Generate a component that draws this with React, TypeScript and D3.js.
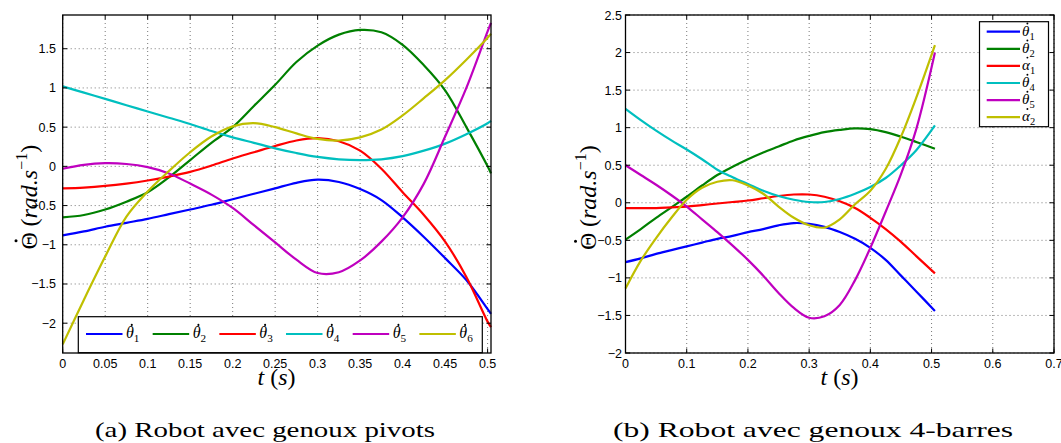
import React from "react";
import * as d3 from "d3";

// ---------- data: panel (a) Robot avec genoux pivots ----------
const tA = [0, 0.025, 0.05, 0.075, 0.1, 0.125, 0.15, 0.175, 0.2, 0.225, 0.25, 0.275, 0.3, 0.325, 0.35, 0.375, 0.4, 0.425, 0.45, 0.475, 0.5, 0.504];
const a_theta1 = [-0.88, -0.83, -0.77, -0.72, -0.67, -0.61, -0.55, -0.49, -0.42, -0.35, -0.28, -0.21, -0.17, -0.2, -0.29, -0.43, -0.65, -0.9, -1.17, -1.45, -1.82, -1.88];
const a_theta2 = [-0.65, -0.62, -0.55, -0.45, -0.33, -0.14, 0.08, 0.3, 0.5, 0.77, 1.04, 1.33, 1.54, 1.68, 1.74, 1.71, 1.55, 1.29, 0.97, 0.5, 0.0, -0.09];
const a_theta3 = [-0.28, -0.27, -0.25, -0.22, -0.18, -0.13, -0.07, 0.01, 0.1, 0.18, 0.26, 0.33, 0.36, 0.32, 0.2, -0.03, -0.33, -0.62, -0.96, -1.41, -1.98, -2.05];
const a_theta4 = [1.02, 0.94, 0.86, 0.78, 0.7, 0.62, 0.54, 0.45, 0.37, 0.3, 0.23, 0.17, 0.12, 0.09, 0.08, 0.09, 0.13, 0.2, 0.29, 0.41, 0.55, 0.58];
const a_theta5 = [-0.03, 0.02, 0.04, 0.03, -0.01, -0.09, -0.22, -0.36, -0.53, -0.75, -0.97, -1.19, -1.36, -1.35, -1.2, -0.96, -0.65, -0.22, 0.38, 1.0, 1.72, 1.83];
const a_theta6 = [-2.27, -1.7, -1.15, -0.64, -0.32, -0.06, 0.18, 0.38, 0.51, 0.55, 0.5, 0.42, 0.35, 0.33, 0.37, 0.47, 0.65, 0.87, 1.1, 1.36, 1.64, 1.69];
const a_names = ["θ|1", "θ|2", "θ|3", "θ|4", "θ|5", "θ|6"];
const a_xticks = [0, 0.05, 0.1, 0.15, 0.2, 0.25, 0.3, 0.35, 0.4, 0.45, 0.5];
const a_yticks = [-2, -1.5, -1, -0.5, 0, 0.5, 1, 1.5];

// ---------- data: panel (b) Robot avec genoux 4-barres ----------
const tB = [0, 0.025, 0.05, 0.075, 0.1, 0.125, 0.15, 0.175, 0.2, 0.225, 0.25, 0.275, 0.3, 0.325, 0.35, 0.375, 0.4, 0.425, 0.45, 0.475, 0.5055];
const b_theta1 = [-0.79, -0.74, -0.68, -0.63, -0.58, -0.53, -0.48, -0.44, -0.39, -0.35, -0.3, -0.27, -0.28, -0.32, -0.39, -0.48, -0.6, -0.76, -0.97, -1.18, -1.44];
const b_theta2 = [-0.49, -0.35, -0.2, -0.06, 0.08, 0.23, 0.37, 0.48, 0.58, 0.67, 0.75, 0.83, 0.89, 0.94, 0.97, 0.99, 0.98, 0.94, 0.88, 0.81, 0.72];
const b_alpha1 = [-0.07, -0.07, -0.07, -0.06, -0.05, -0.03, -0.01, 0.01, 0.03, 0.06, 0.09, 0.11, 0.11, 0.08, 0.02, -0.07, -0.2, -0.35, -0.52, -0.71, -0.94];
const b_theta4 = [1.25, 1.1, 0.96, 0.83, 0.71, 0.58, 0.44, 0.34, 0.25, 0.16, 0.09, 0.04, 0.01, 0.01, 0.05, 0.12, 0.21, 0.33, 0.5, 0.7, 1.03];
const b_theta5 = [0.5, 0.37, 0.24, 0.1, -0.05, -0.22, -0.39, -0.57, -0.76, -0.97, -1.2, -1.4, -1.53, -1.51, -1.36, -1.03, -0.6, -0.12, 0.38, 0.98, 2.0];
const b_alpha2 = [-1.14, -0.77, -0.47, -0.2, 0.04, 0.2, 0.28, 0.3, 0.23, 0.12, -0.05, -0.2, -0.3, -0.33, -0.22, -0.02, 0.16, 0.45, 0.88, 1.4, 2.1];
const b_names = ["θ|1", "θ|2", "α|1", "θ|4", "θ|5", "α|2"];
const b_xticks = [0, 0.1, 0.2, 0.3, 0.4, 0.5, 0.6, 0.7];
const b_yticks = [-2, -1.5, -1, -0.5, 0, 0.5, 1, 1.5, 2, 2.5];

const colors = ["#0000ff", "#008000", "#ff0000", "#00bfbf", "#bf00bf", "#bfbf00"];

const SANS = "'Liberation Sans', Arial, Helvetica, sans-serif";
const SERIF = "'Liberation Serif', 'DejaVu Serif', serif";

function fmt(v: number) {
  const s = String(Math.round(v * 1000) / 1000);
  return s.replace("-", "\u2212");
}

// symbol with a dot above and a subscript
function Sym({ name, x, y, size }: { name: string; x: number; y: number; size: number }) {
  const [base, sub] = name.split("|");
  return (
    <g>
      <text x={x} y={y} fontFamily={SERIF} fontSize={size} fontStyle="italic" fill="#000">
        {base}
        <tspan dy={size * 0.28} fontSize={size * 0.7} fontStyle="normal">{sub}</tspan>
      </text>
      <circle cx={x + size * 0.36} cy={y - size * 0.82} r={size * 0.065} fill="#000" />
    </g>
  );
}

type PanelProps = {
  t: number[];
  series: number[][];
  names: string[];
  xDomain: [number, number];
  yDomain: [number, number];
  xticks: number[];
  yticks: number[];
  left: number;
  right: number;
  top: number;
  bottom: number;
  yLabelEnd: number;
  legend: "bottom" | "topright";
};

function Panel(p: PanelProps) {
  const x = d3.scaleLinear().domain(p.xDomain).range([p.left, p.right]);
  const y = d3.scaleLinear().domain(p.yDomain).range([p.bottom, p.top]);
  const line = d3
    .line<number>()
    .x((_, i) => x(p.t[i]))
    .y((d) => y(d))
    .curve(d3.curveCatmullRom.alpha(0.5));
  const tl = 4.5;
  const grid = "#555";
  return (
    <g>
      <rect x={p.left} y={p.top} width={p.right - p.left} height={p.bottom - p.top} fill="#fff" />
      {p.xticks.map((v, i) => (
        <line key={"gx" + i} x1={x(v)} x2={x(v)} y1={p.top} y2={p.bottom} stroke={grid} strokeWidth={0.8} strokeDasharray="1,3" />
      ))}
      {p.yticks.map((v, i) => (
        <line key={"gy" + i} x1={p.left} x2={p.right} y1={y(v)} y2={y(v)} stroke={grid} strokeWidth={0.8} strokeDasharray="1,3" />
      ))}
      {p.series.map((s, k) => (
        <path key={"s" + k} d={line(s) || ""} fill="none" stroke={colors[k]} strokeWidth={2.2} />
      ))}
      {p.xticks.map((v, i) => (
        <g key={"tx" + i}>
          <line x1={x(v)} x2={x(v)} y1={p.bottom} y2={p.bottom - tl} stroke="#000" strokeWidth={1} />
          <line x1={x(v)} x2={x(v)} y1={p.top} y2={p.top + tl} stroke="#000" strokeWidth={1} />
          <text x={x(v)} y={p.bottom + 14.5} textAnchor="middle" fontFamily={SANS} fontSize={12.5} fill="#000">
            {fmt(v)}
          </text>
        </g>
      ))}
      {p.yticks.map((v, i) => (
        <g key={"ty" + i}>
          <line x1={p.left} x2={p.left + tl} y1={y(v)} y2={y(v)} stroke="#000" strokeWidth={1} />
          <line x1={p.right} x2={p.right - tl} y1={y(v)} y2={y(v)} stroke="#000" strokeWidth={1} />
          <text x={p.yLabelEnd} y={y(v) + 4.5} textAnchor="end" fontFamily={SANS} fontSize={12.5} fill="#000">
            {fmt(v)}
          </text>
        </g>
      ))}
      {p.legend === "bottom" ? (
        <g>
          <rect x={78.3} y={316.7} width={404} height={36} fill="#fff" stroke="#000" strokeWidth={1.2} />
          {p.names.map((n, k) => {
            const x0 = 86 + k * 66.67;
            return (
              <g key={"lg" + k}>
                <line x1={x0} x2={x0 + 36.5} y1={334} y2={334} stroke={colors[k]} strokeWidth={2.2} />
                <Sym name={n} x={x0 + 40} y={338} size={16} />
              </g>
            );
          })}
        </g>
      ) : (
        <g>
          <rect x={979.5} y={21.7} width={69} height={105} fill="#fff" stroke="#000" strokeWidth={1.2} />
          {p.names.map((n, k) => {
            const yy = 31.7 + k * 17.1;
            return (
              <g key={"lg" + k}>
                <line x1={986.7} x2={1020} y1={yy} y2={yy} stroke={colors[k]} strokeWidth={2.2} />
                <Sym name={n} x={1022} y={yy + 4} size={15} />
              </g>
            );
          })}
        </g>
      )}
      <rect x={p.left} y={p.top} width={p.right - p.left} height={p.bottom - p.top} fill="none" stroke="#000" strokeWidth={1.3} />
    </g>
  );
}

function YLabel({ x, cy }: { x: number; cy: number }) {
  const s = -67; // start of the label along the rotated axis
  return (
    <g transform={`translate(${x},${cy}) rotate(-90)`}>
      <text x={s} y={0} fontFamily={SERIF} fontSize={24} fill="#000">Θ</text>
      <circle cx={s + 8.7} cy={-20.5} r={1.5} fill="#000" />
      <text x={s + 23} y={0} fontFamily={SERIF} fontSize={24} fill="#000">
        (<tspan fontStyle="italic">rad.s</tspan>
        <tspan dy={-10} fontSize={16}>{"\u22121"}</tspan>
        <tspan dy={10}>)</tspan>
      </text>
    </g>
  );
}

function XLabel({ cx }: { cx: number }) {
  return (
    <text x={cx} y={385} textAnchor="middle" fontFamily={SERIF} fontSize={24} fill="#000">
      <tspan fontStyle="italic">t</tspan>
      {" ("}
      <tspan fontStyle="italic">s</tspan>
      {")"}
    </text>
  );
}

export default function App() {
  return (
    <svg width={1061} height={443} style={{ position: "absolute", left: 0, top: 0, background: "#fff" }}>
      <rect x={0} y={0} width={1061} height={443} fill="#fff" />
      <Panel
        t={tA}
        series={[a_theta1, a_theta2, a_theta3, a_theta4, a_theta5, a_theta6]}
        names={a_names}
        xDomain={[0, 0.504]}
        yDomain={[-2.38, 1.93]}
        xticks={a_xticks}
        yticks={a_yticks}
        left={62.7}
        right={491}
        top={15}
        bottom={353}
        yLabelEnd={56}
        legend="bottom"
      />
      <Panel
        t={tB}
        series={[b_theta1, b_theta2, b_alpha1, b_theta4, b_theta5, b_alpha2]}
        names={b_names}
        xDomain={[0, 0.7]}
        yDomain={[-2, 2.5]}
        xticks={b_xticks}
        yticks={b_yticks}
        left={625.5}
        right={1054}
        top={15}
        bottom={353}
        yLabelEnd={622}
        legend="topright"
      />
      <YLabel x={36.5} cy={182.5} />
      <YLabel x={596} cy={183} />
      <XLabel cx={276.5} />
      <XLabel cx={839.5} />
      <text x={265} y={437} textAnchor="middle" fontFamily={SERIF} fontSize={22} textLength={340} lengthAdjust="spacingAndGlyphs" fill="#000">
        (a) Robot avec genoux pivots
      </text>
      <text x={813} y={437} textAnchor="middle" fontFamily={SERIF} fontSize={22} textLength={400} lengthAdjust="spacingAndGlyphs" fill="#000">
        (b) Robot avec genoux 4-barres
      </text>
    </svg>
  );
}
